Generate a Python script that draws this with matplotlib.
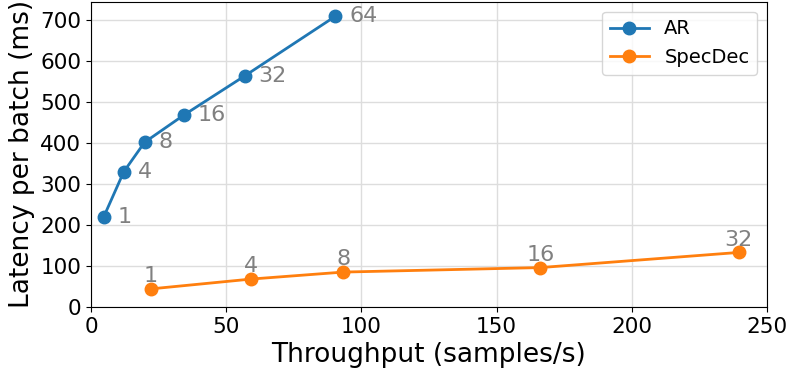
import matplotlib
matplotlib.use("Agg")
import matplotlib.pyplot as plt
from matplotlib.ticker import MultipleLocator

# AR decoding
ar_throughput = [4.7, 12.1, 19.8, 34.2, 56.8, 90.4]
ar_latency = [220, 330, 402, 468, 564, 710]
ar_batch = [1, 4, 8, 16, 32, 64]

# speculative decoding
sd_throughput = [22.2, 59.3, 93.3, 166.2, 239.6]
sd_latency = [44, 68, 85, 96, 133]
sd_batch = [1, 4, 8, 16, 32]

fig, ax = plt.subplots(figsize=(7.89, 3.77), dpi=100)
fig.subplots_adjust(left=0.1154, right=0.972, top=0.995, bottom=0.186)

ax.plot(ar_throughput, ar_latency, marker='o', color='tab:blue', linewidth=2, markersize=9, label='AR')
ax.plot(sd_throughput, sd_latency, marker='o', color='tab:orange', linewidth=2, markersize=9, label='SpecDec')

# batch size labels
for x, y, b in zip(ar_throughput, ar_latency, ar_batch):
    ax.annotate(str(b), (x, y), xytext=(10, 0), textcoords='offset points',
                ha='left', va='center', fontsize=16, color='gray')
for x, y, b in zip(sd_throughput, sd_latency, sd_batch):
    ax.annotate(str(b), (x, y), xytext=(0, 2), textcoords='offset points',
                ha='center', va='bottom', fontsize=16, color='gray')

ax.set_xlim(0, 250)
ax.set_ylim(0, 745)
ax.yaxis.set_major_locator(MultipleLocator(100))
ax.set_xlabel('Throughput (samples/s)', fontsize=19)
ax.set_ylabel('Latency per batch (ms)', fontsize=19)
ax.tick_params(labelsize=15.5)
ax.grid(True, color='#dddddd', linewidth=1)
ax.set_axisbelow(True)
ax.legend(loc='upper right', fontsize=14)

fig.savefig('out.png', dpi=100)
